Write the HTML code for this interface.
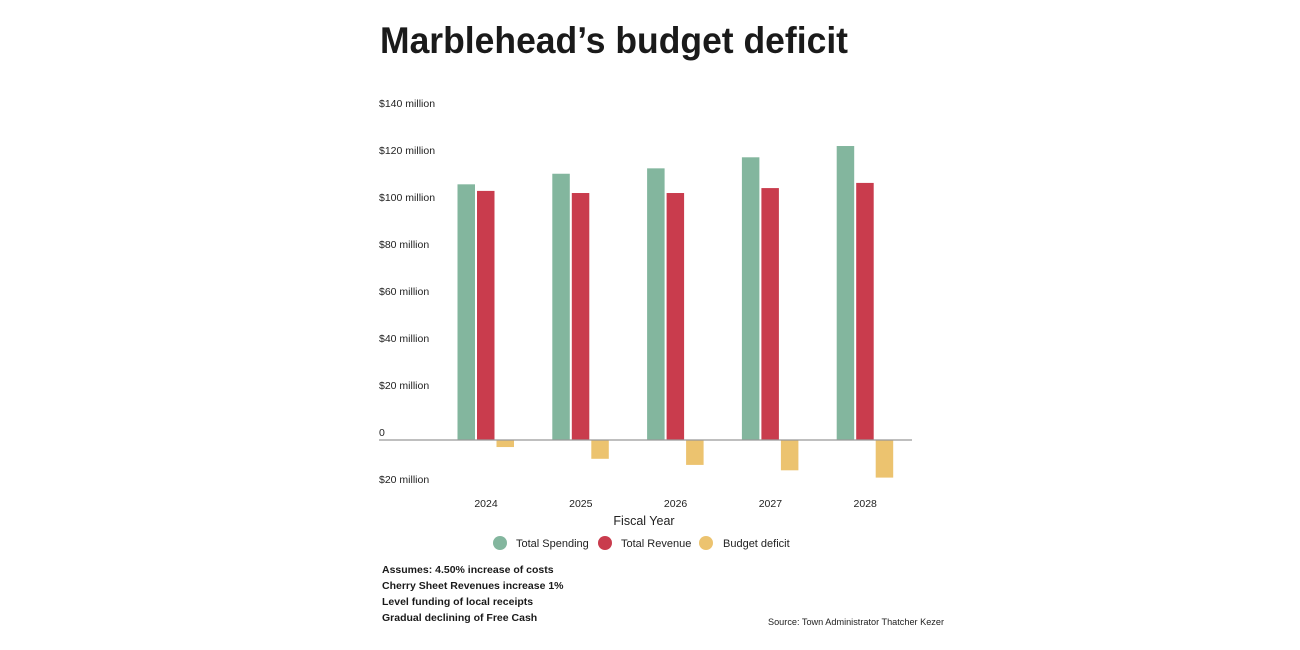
<!DOCTYPE html>
<html><head><meta charset="utf-8"><style>
html,body{margin:0;padding:0;background:#fff;}
svg{display:block;font-family:"Liberation Sans",Arial,sans-serif;}
</style></head><body>
<svg id="chart" width="1300" height="650" viewBox="0 0 1300 650">
<text x="380" y="53" font-size="37" font-weight="bold" fill="#1a1a1a" textLength="468" lengthAdjust="spacingAndGlyphs">Marblehead’s budget deficit</text>
<g id="yaxis"></g>
<g id="bars"></g>
<line x1="379" y1="440" x2="912" y2="440" stroke="#999" stroke-width="1.2"/>
<g id="xaxis"></g>
<text x="644" y="525" font-size="12.5" text-anchor="middle" fill="#222">Fiscal Year</text>
<g>
<g><circle cx="500" cy="543" r="7" fill="#83b69e"/><text x="516" y="547" font-size="11" fill="#222">Total Spending</text></g>
<g><circle cx="605" cy="543" r="7" fill="#c93c4d"/><text x="621" y="547" font-size="11" fill="#222">Total Revenue</text></g>
<g><circle cx="706" cy="543" r="7" fill="#ecc36f"/><text x="723" y="547" font-size="11" fill="#222">Budget deficit</text></g>
</g>
<g font-size="10.5" font-weight="bold" fill="#1a1a1a">
<text x="382" y="573">Assumes: 4.50% increase of costs</text>
<text x="382" y="589">Cherry Sheet Revenues increase 1%</text>
<text x="382" y="605">Level funding of local receipts</text>
<text x="382" y="621">Gradual declining of Free Cash</text>
</g>
<text x="768" y="625" font-size="9" fill="#222" textLength="176" lengthAdjust="spacingAndGlyphs">Source: Town Administrator Thatcher Kezer</text>
</svg>
<script>
const years = ['2024','2025','2026','2027','2028'];
const spending = [108.8, 113.3, 115.6, 120.3, 125.1];
const revenue = [106.0, 105.1, 105.1, 107.2, 109.4];
const deficit = [-3.0, -8.0, -10.6, -12.9, -16.0];
const yTicks = [140, 120, 100, 80, 60, 40, 20, 0, -20];
const yTickLabels = ['$140 million','$120 million','$100 million','$80 million','$60 million','$40 million','$20 million','0','$20 million'];

const NS = 'http://www.w3.org/2000/svg';
const y = v => 440 - v * 2.35;
const groupX = i => 457.5 + i * 94.8;
const BW = 17.5;
const colors = ['#83b69e', '#c93c4d', '#ecc36f'];
const series = [spending, revenue, deficit];
const seriesNames = ['spending', 'revenue', 'deficit'];

const yax = document.getElementById('yaxis');
yTicks.forEach((t, i) => {
  const tx = document.createElementNS(NS, 'text');
  tx.setAttribute('x', 379);
  tx.setAttribute('y', y(t) - 4);
  tx.setAttribute('font-size', '10.5');
  tx.setAttribute('fill', '#222');
  tx.textContent = yTickLabels[i];
  
  
  yax.appendChild(tx);
});

const bars = document.getElementById('bars');
const xax = document.getElementById('xaxis');
years.forEach((yr, i) => {
  series.forEach((s, k) => {
    const v = s[i];
    const r = document.createElementNS(NS, 'rect');
    r.setAttribute('x', groupX(i) + k * (BW + 2));
    r.setAttribute('y', Math.min(y(v), y(0)));
    r.setAttribute('width', BW);
    r.setAttribute('height', Math.abs(y(v) - y(0)));
    r.setAttribute('fill', colors[k]);
    
    
    bars.appendChild(r);
  });
  const tx = document.createElementNS(NS, 'text');
  tx.setAttribute('x', groupX(i) + 28.5);
  tx.setAttribute('y', 507);
  tx.setAttribute('font-size', '10.5');
  tx.setAttribute('text-anchor', 'middle');
  tx.setAttribute('fill', '#222');
  tx.textContent = yr;
  
  
  xax.appendChild(tx);
});
</script>
</body></html>
